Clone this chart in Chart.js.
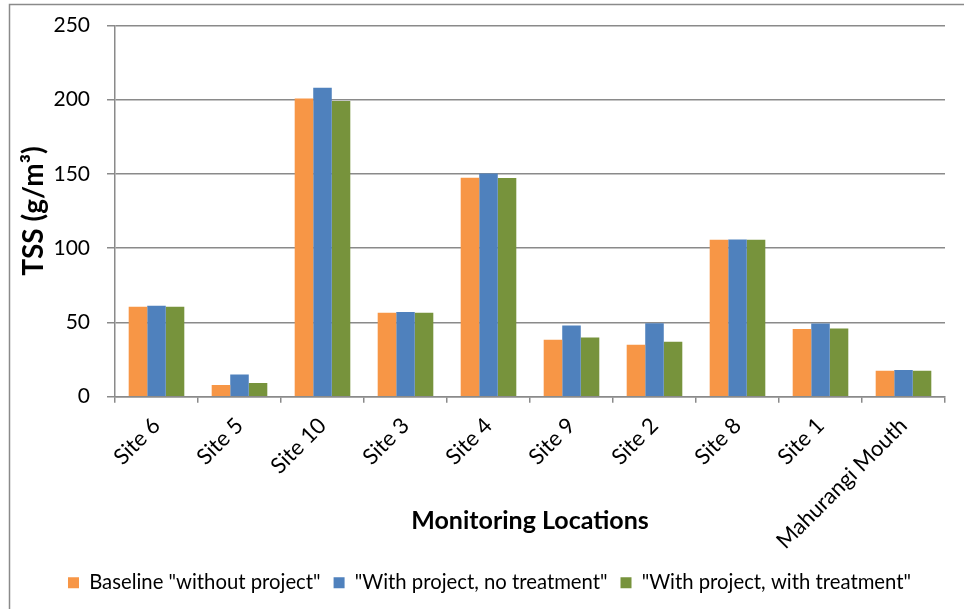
<!DOCTYPE html>
<html>
<head>
<meta charset="utf-8">
<script src="https://cdn.jsdelivr.net/npm/chart.js@4/dist/chart.umd.min.js"></script>
<style>
html,body{margin:0;padding:0;background:#fff;}
#wrap{position:relative;width:964px;height:609px;}
</style>
</head>
<body>
<div id="wrap"><canvas id="c" width="964" height="609"></canvas></div>
<script>
const categories = ['Site 6','Site 5','Site 10','Site 3','Site 4','Site 9','Site 2','Site 8','Site 1','Mahurangi Mouth'];
const seriesNames = ['Baseline "without project"','"With project, no treatment"','"With project, with treatment"'];
const baseline = [60.5, 7.8, 200.7, 56.5, 147.5, 38.3, 35.0, 105.7, 45.5, 17.5];
const noTreatment = [61.2, 15.0, 208.1, 57.0, 150.3, 47.9, 49.5, 105.8, 49.3, 17.9];
const withTreatment = [60.5, 9.2, 199.1, 56.5, 147.2, 39.9, 37.0, 105.7, 45.9, 17.5];
const yTicks = [0, 50, 100, 150, 200, 250];

const FONT = 'Lato, "Open Sans", sans-serif';
const GRID = '#8a8a8a';

const frame = {
  id: 'frame',
  beforeDraw(chart) {
    const ctx = chart.ctx;
    ctx.save();
    ctx.fillStyle = '#fff';
    ctx.fillRect(0, 0, chart.width, chart.height);
    ctx.strokeStyle = GRID;
    ctx.lineWidth = 1.5;
    ctx.beginPath();
    ctx.moveTo(9.5, chart.height);
    ctx.lineTo(9.5, 4.5);
    ctx.lineTo(chart.width, 4.5);
    ctx.stroke();
    ctx.restore();
  },
  afterLayout(chart) {
    if (chart.legend) { chart.legend.left += 17; chart.legend.right += 17; }
  }
};

new Chart(document.getElementById('c'), {
  type: 'bar',
  data: {
    labels: categories,
    datasets: [
      {label: seriesNames[0], data: baseline, backgroundColor: '#F79646'},
      {label: seriesNames[1], data: noTreatment, backgroundColor: '#4F81BD'},
      {label: seriesNames[2], data: withTreatment, backgroundColor: '#77933C'}
    ]
  },
  options: {
    responsive: false,
    animation: false,
    layout: {padding: {top: 20, right: 19, left: 0, bottom: 6}},
    datasets: {bar: {categoryPercentage: 0.67, barPercentage: 1.0, borderWidth: 0}},
    plugins: {
      legend: {
        position: 'bottom',
        labels: {
          boxWidth: 11, boxHeight: 11, padding: 13,
          color: '#000',
          font: {family: FONT, size: 20.3}
        }
      },
      tooltip: {enabled: false}
    },
    scales: {
      x: {
        grid: {display: true, drawOnChartArea: false, drawTicks: true, tickLength: 6, color: GRID, lineWidth: 1.5, offset: true},
        border: {display: true, color: GRID, width: 1.5},
        ticks: {color: '#000', font: {family: FONT, size: 22}, maxRotation: 45, minRotation: 45, padding: 10, autoSkip: false},
        title: {display: true, text: 'Monitoring Locations', color: '#000', font: {family: FONT, size: 25, weight: 'bold'}, padding: {top: 0, bottom: 24}},
        afterFit(scale) { scale.height = 163; }
      },
      y: {
        min: 0, max: 250,
        afterBuildTicks(scale) { scale.ticks = yTicks.map(v => ({value: v})); },
        grid: {color: GRID, lineWidth: 1.5, tickLength: 8},
        border: {display: true, color: GRID, width: 1.5},
        ticks: {color: '#000', font: {family: FONT, size: 21, lineHeight: 0.8}, padding: 17},
        title: {display: true, text: 'TSS (g/m³)', color: '#000', font: {family: FONT, size: 28, weight: 'bold'}, padding: {top: 17, bottom: 0}},
        afterFit(scale) { scale.width = 115; }
      }
    }
  },
  plugins: [frame]
});
</script>
</body>
</html>
